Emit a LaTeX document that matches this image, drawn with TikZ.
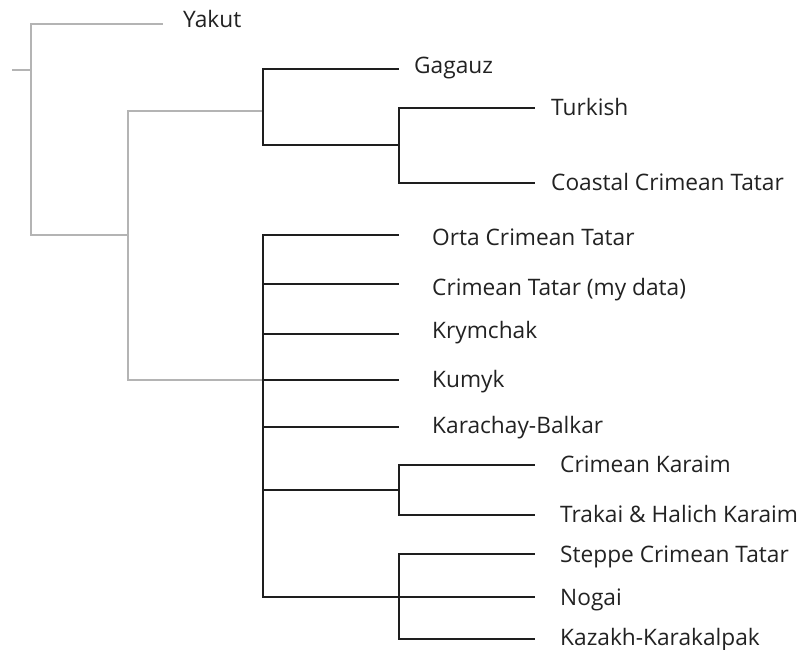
\documentclass[tikz,border=0pt]{standalone}
\usepackage{fontspec}
\setmainfont{Open Sans}
\definecolor{edgegrey}{RGB}{180,180,180}
\definecolor{edgeblack}{RGB}{30,30,30}
\definecolor{labeltext}{RGB}{34,34,34}
\tikzset{
  greyedge/.style={draw=edgegrey, line width=2pt},
  blackedge/.style={draw=edgeblack, line width=2pt},
  leaf/.style={anchor=base west, inner sep=0pt, text=labeltext, font=\fontsize{22.7}{27}\selectfont}
}
\begin{document}
\begin{tikzpicture}[x=1pt, y=-1pt]
\useasboundingbox (0,0) rectangle (800,650);
% internal nodes
\coordinate (stub) at (12,70);
\coordinate (r) at (31,70);
\coordinate (n1) at (128,235);
\coordinate (n2) at (263,111);
\coordinate (n3) at (263,380);
\coordinate (n4) at (399,145);
\coordinate (n5) at (399,490);
\coordinate (n6) at (399,597);
% tip ends
\coordinate (tYakut) at (163,24);
\coordinate (tGagauz) at (399,69);
\coordinate (tTurkish) at (535,108);
\coordinate (tCoastal) at (535,183);
\coordinate (tOrta) at (399,235);
\coordinate (tMy) at (399,284);
\coordinate (tKrym) at (399,334);
\coordinate (tKumyk) at (399,380);
\coordinate (tKarachay) at (399,427);
\coordinate (tCKaraim) at (535,465);
\coordinate (tTrakai) at (535,515);
\coordinate (tSteppe) at (535,554);
\coordinate (tNogai) at (535,597);
\coordinate (tKazakh) at (535,639);
% labels
\node[leaf] (lYakut) at (183,27.7) {Yakut};
\node[leaf] (lGagauz) at (414,73.3) {Gagauz};
\node[leaf] (lTurkish) at (551,116) {Turkish};
\node[leaf] (lCoastal) at (551,190) {Coastal Crimean Tatar};
\node[leaf] (lOrta) at (432,245.5) {Orta Crimean Tatar};
\node[leaf] (lMy) at (432,295) {Crimean Tatar (my data)};
\node[leaf] (lKrym) at (432,338.3) {Krymchak};
\node[leaf] (lKumyk) at (432,387) {Kumyk};
\node[leaf] (lKarachay) at (432,433) {Karachay-Balkar};
\node[leaf] (lCKaraim) at (560,472) {Crimean Karaim};
\node[leaf] (lTrakai) at (560,522) {Trakai \& Halich Karaim};
\node[leaf] (lSteppe) at (560,562) {Steppe Crimean Tatar};
\node[leaf] (lNogai) at (560,605) {Nogai};
\node[leaf] (lKazakh) at (560,645) {Kazakh-Karakalpak};
% grey edges
\draw[greyedge] (stub) -- (r);
\draw[greyedge] (r) |- (tYakut);
\draw[greyedge] (r) |- (n1);
\draw[greyedge] (n1) |- (n2);
\draw[greyedge] (n1) |- (n3);
% black edges
\draw[blackedge] (n2) |- (tGagauz);
\draw[blackedge] (n2) |- (n4);
\draw[blackedge] (n4) |- (tTurkish);
\draw[blackedge] (n4) |- (tCoastal);
\draw[blackedge] (n3) |- (tOrta);
\draw[blackedge] (n3) |- (tMy);
\draw[blackedge] (n3) |- (tKrym);
\draw[blackedge] (n3) -- (tKumyk);
\draw[blackedge] (n3) |- (tKarachay);
\draw[blackedge] (n3) |- (n5);
\draw[blackedge] (n3) |- (n6);
\draw[blackedge] (n5) |- (tCKaraim);
\draw[blackedge] (n5) |- (tTrakai);
\draw[blackedge] (n6) |- (tSteppe);
\draw[blackedge] (n6) -- (tNogai);
\draw[blackedge] (n6) |- (tKazakh);
\end{tikzpicture}
\end{document}
